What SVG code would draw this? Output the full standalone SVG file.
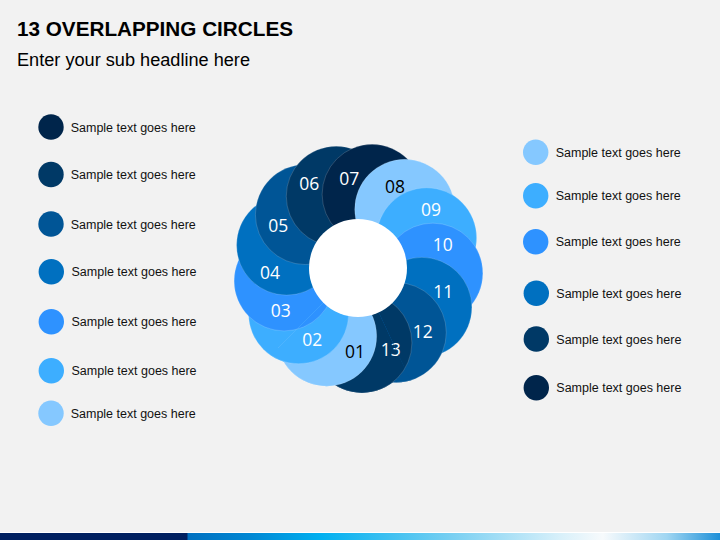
<svg xmlns="http://www.w3.org/2000/svg" xmlns:xlink="http://www.w3.org/1999/xlink" width="720" height="540" viewBox="0 0 720 540">
<defs>
<style>
.title{font-family:"Liberation Sans",Arial,sans-serif;font-weight:bold;font-size:21px;fill:#000}
.sub{font-family:"Liberation Sans",Arial,sans-serif;font-size:17.5px;fill:#000}
.lg{font-family:"Liberation Sans",Arial,sans-serif;font-size:12.5px;fill:#111}
.num{font-family:"Open Sans","Liberation Sans",sans-serif;font-size:17.5px;text-anchor:middle;fill:#fff}
.dk{fill:#000}
.ring{stroke:#fff;stroke-opacity:.22;stroke-width:.75}
.c1{fill:#85C8FF}.c2{fill:#3DAEFF}.c3{fill:#2E92FF}.c4{fill:#0070C0}.c5{fill:#005596}.c6{fill:#003966}.c7{fill:#00254B}
</style>
<linearGradient id="barGrad" x1="0" y1="0" x2="1" y2="0">
<stop offset="0" stop-color="#0070C0"/>
<stop offset="0.12" stop-color="#0088D4"/>
<stop offset="0.25" stop-color="#00B0F0"/>
<stop offset="0.5" stop-color="#7AD0F2"/>
<stop offset="0.7" stop-color="#D8F0FA"/>
<stop offset="0.78" stop-color="#F7FAFC"/>
<stop offset="0.9" stop-color="#A0D6F2"/>
<stop offset="1" stop-color="#1E90D8"/>
</linearGradient>
<clipPath id="seam"><polygon points="358,268 442.52,449.26 323.27,464.96 216.58,409.42"/></clipPath>
</defs>
<rect x="0" y="0" width="720" height="540" fill="#F2F2F2"/>
<g id="header">
<text class="title" x="17" y="36" textLength="276" lengthAdjust="spacingAndGlyphs">13 OVERLAPPING CIRCLES</text>
<text class="sub" x="17" y="66" textLength="233" lengthAdjust="spacingAndGlyphs">Enter your sub headline here</text>
</g>
<g id="ring">
<g id="n01"><circle class="c1 ring" cx="326.67" cy="336.15" r="50"/><text class="num dk" x="355" y="358">01</text></g>
<g id="n02"><circle class="c2 ring" cx="298.59" cy="313.77" r="50"/><text class="num" x="312.3" y="346.3">02</text></g>
<g id="n03"><circle class="c3 ring" cx="284.12" cy="280.92" r="50"/><text class="num" x="280.7" y="317">03</text></g>
<g id="n04"><circle class="c4 ring" cx="286.58" cy="245.11" r="50"/><text class="num" x="270" y="278.6">04</text></g>
<g id="n05"><circle class="c5 ring" cx="305.39" cy="214.55" r="50"/><text class="num" x="278.3" y="232">05</text></g>
<g id="n06"><circle class="c6 ring" cx="336.27" cy="196.22" r="50"/><text class="num" x="309.3" y="189.6">06</text></g>
<g id="n07"><circle class="c7 ring" cx="372.12" cy="194.34" r="50"/><text class="num" x="349.3" y="184.6">07</text></g>
<g id="n08"><circle class="c1 ring" cx="404.73" cy="209.33" r="50"/><text class="num dk" x="395" y="193">08</text></g>
<g id="n09"><circle class="c2 ring" cx="426.64" cy="237.77" r="50"/><text class="num" x="431" y="215.6">09</text></g>
<g id="n10"><circle class="c3 ring" cx="432.83" cy="273.13" r="50"/><text class="num" x="442.7" y="251.3">10</text></g>
<g id="n11"><circle class="c4 ring" cx="421.87" cy="307.32" r="50"/><text class="num" x="443.3" y="298">11</text></g>
<g id="n12"><circle class="c5 ring" cx="396.28" cy="332.50" r="50"/><text class="num" x="422.7" y="338">12</text></g>
<g id="n13"><circle class="c6 ring" cx="361.92" cy="342.90" r="50"/><text class="num" x="390.7" y="355.6">13</text></g>
<g id="seam-fix" clip-path="url(#seam)">
<use xlink:href="#n11"/><use xlink:href="#n12"/><use xlink:href="#n13"/><use xlink:href="#n01"/><use xlink:href="#n02"/><use xlink:href="#n03"/>
</g>
<circle id="hole" cx="358" cy="268" r="49" fill="#FFFFFF"/>
</g>
<g id="connectors"/>
<g id="legend-left">
<g id="l07"><circle class="c7" cx="51" cy="127" r="12.7"/><text class="lg" x="70.7" y="131.5">Sample text goes here</text></g>
<g id="l06"><circle class="c6" cx="51" cy="174.5" r="12.7"/><text class="lg" x="70.7" y="179">Sample text goes here</text></g>
<g id="l05"><circle class="c5" cx="51" cy="224" r="12.7"/><text class="lg" x="70.7" y="228.5">Sample text goes here</text></g>
<g id="l04"><circle class="c4" cx="51.3" cy="271.7" r="12.7"/><text class="lg" x="71.5" y="276.2">Sample text goes here</text></g>
<g id="l03"><circle class="c3" cx="51.3" cy="321.7" r="12.7"/><text class="lg" x="71.5" y="326.2">Sample text goes here</text></g>
<g id="l02"><circle class="c2" cx="51.3" cy="370.7" r="12.7"/><text class="lg" x="71.5" y="375.2">Sample text goes here</text></g>
<g id="l01"><circle class="c1" cx="51" cy="413.3" r="12.7"/><text class="lg" x="70.7" y="417.8">Sample text goes here</text></g>
</g>
<g id="legend-right">
<g id="r08"><circle class="c1" cx="535.7" cy="152.3" r="12.7"/><text class="lg" x="555.7" y="156.8">Sample text goes here</text></g>
<g id="r09"><circle class="c2" cx="535.7" cy="195.7" r="12.7"/><text class="lg" x="555.7" y="200.2">Sample text goes here</text></g>
<g id="r10"><circle class="c3" cx="535.7" cy="241.7" r="12.7"/><text class="lg" x="555.7" y="246.2">Sample text goes here</text></g>
<g id="r11"><circle class="c4" cx="536.3" cy="293.3" r="12.7"/><text class="lg" x="556.3" y="297.8">Sample text goes here</text></g>
<g id="r12"><circle class="c6" cx="536.3" cy="339" r="12.7"/><text class="lg" x="556.3" y="343.5">Sample text goes here</text></g>
<g id="r13"><circle class="c7" cx="536.3" cy="387.7" r="12.7"/><text class="lg" x="556.3" y="392.2">Sample text goes here</text></g>
</g>
<g id="footer-bar">
<rect x="0" y="532" width="720" height="1" fill="#FFFFFF"/>
<rect x="0" y="533" width="188" height="7" fill="#002060"/>
<rect x="187.5" y="533" width="532.5" height="7" fill="url(#barGrad)"/>
</g>
</svg>
